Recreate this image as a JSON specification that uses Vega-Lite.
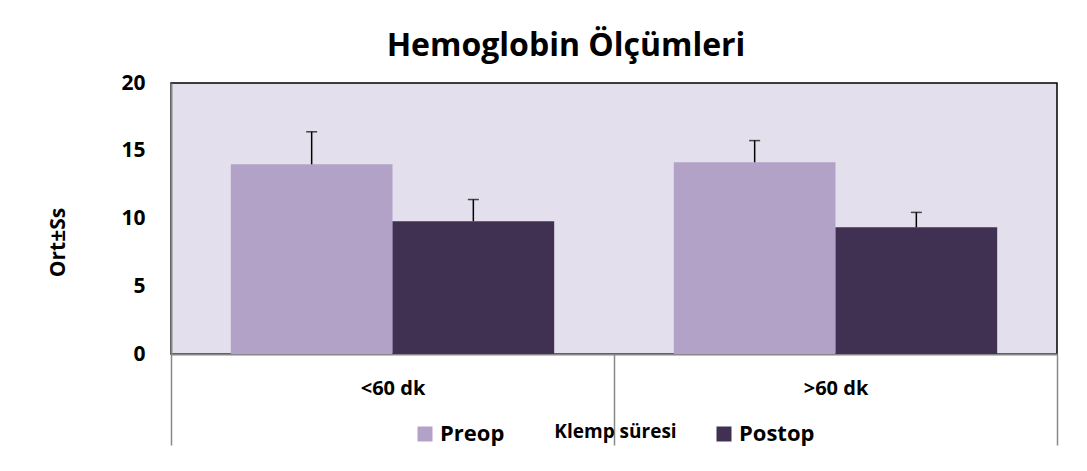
{
  "$schema": "https://vega.github.io/schema/vega-lite/v6.json",
  "autosize": "none",
  "width": 886,
  "height": 271,
  "padding": {"left": 171, "top": 83, "right": 30, "bottom": 117},
  "background": "white",
  "title": {"text": "Hemoglobin Ölçümleri", "font": "Open Sans", "fontSize": 32, "fontWeight": "bold", "color": "black", "anchor": "middle", "offset": 9, "dx": -48},
  "data": {"values": [
    {"grup": "<60 dk", "seri": "Preop", "ort": 14.0, "ust": 16.4},
    {"grup": "<60 dk", "seri": "Postop", "ort": 9.8, "ust": 11.4},
    {"grup": ">60 dk", "seri": "Preop", "ort": 14.15, "ust": 15.75},
    {"grup": ">60 dk", "seri": "Postop", "ort": 9.35, "ust": 10.45}
  ]},
  "encoding": {
    "x": {"field": "grup", "type": "nominal", "sort": ["<60 dk", ">60 dk"],
      "scale": {"paddingInner": 0, "paddingOuter": 0},
      "axis": {"title": "Klemp süresi", "labelAngle": 0, "labelFont": "Open Sans", "labelFontSize": 20, "labelFontWeight": "bold", "labelColor": "black",
        "tickBand": "extent", "tickSize": 91, "tickColor": "#888", "tickWidth": 1.5, "labelPadding": -67,
        "domainColor": "#888", "domainWidth": 2,
        "titleFont": "Open Sans", "titleFontSize": 19, "titleFontWeight": "bold", "titleColor": "black",
        "titleX": 444, "titleY": 77, "titleBaseline": "middle"}},
    "xOffset": {"field": "seri", "type": "nominal", "sort": ["Preop", "Postop"], "scale": {"paddingInner": 0, "paddingOuter": 0.37}},
    "y": {"field": "ort", "type": "quantitative", "scale": {"domain": [0, 20]},
      "axis": {"title": "Ort±Ss", "values": [0, 5, 10, 15, 20], "grid": false, "ticks": false,
        "labelFont": "Open Sans", "labelFontSize": 21, "labelFontWeight": "bold", "labelColor": "black", "labelPadding": 26,
        "domainColor": "#888", "domainWidth": 2,
        "titleFont": "Open Sans", "titleFontSize": 21, "titleFontWeight": "bold", "titleColor": "black", "titlePadding": 52, "titleY": 159}}
  },
  "layer": [
    {"mark": {"type": "bar"},
      "encoding": {"color": {"field": "seri", "type": "nominal", "scale": {"domain": ["Preop", "Postop"], "range": ["#B3A2C7", "#403152"]},
        "legend": {"title": null, "orient": "none", "legendX": 243, "legendY": 340, "direction": "horizontal", "columns": 2, "columnPadding": 208,
          "symbolType": "square", "symbolSize": 225, "symbolStrokeWidth": 0, "labelFont": "Open Sans", "labelFontSize": 22, "labelFontWeight": "bold", "labelColor": "black", "padding": 0, "labelOffset": 4}}}},
    {"mark": {"type": "rule", "color": "black", "strokeWidth": 1.5},
      "encoding": {"y2": {"field": "ust"}}},
    {"mark": {"type": "tick", "color": "black", "thickness": 1.5, "size": 11},
      "encoding": {"y": {"field": "ust", "type": "quantitative"}}}
  ],
  "config": {
    "view": {"fill": "#E4DFEC", "stroke": "black", "strokeWidth": 1.5}
  }
}
